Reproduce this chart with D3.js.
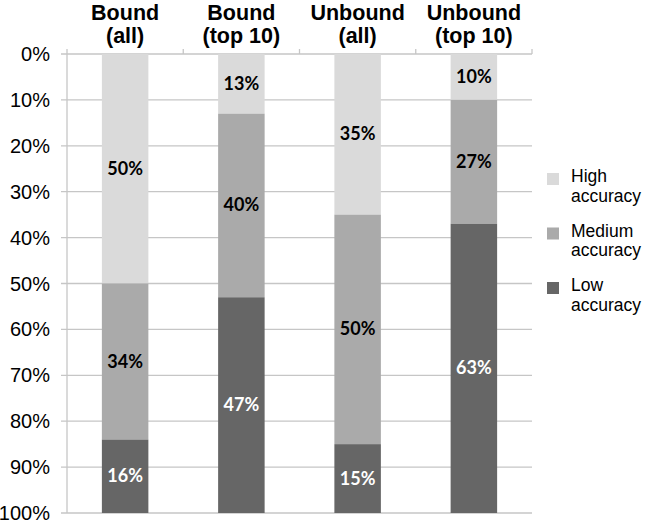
<!DOCTYPE html>
<html><head><meta charset="utf-8">
<script src="https://cdn.jsdelivr.net/npm/d3@7"></script>
<style>body{margin:0;background:#fff}</style>
</head><body>
<svg id="c" width="650" height="524"></svg>
<script>
const categories = [["Bound","(all)"],["Bound","(top 10)"],["Unbound","(all)"],["Unbound","(top 10)"]];
const seriesNames = [["High","accuracy"],["Medium","accuracy"],["Low","accuracy"]];
const high   = [50, 13, 35, 10];
const medium = [34, 40, 50, 27];
const low    = [16, 47, 15, 63];
const yTicks = [0,10,20,30,40,50,60,70,80,90,100];
const colors = ["#dadada","#aaaaaa","#666666"];
const labelColors = ["#000","#000","#fff"];

const svg = d3.select("#c");
const L = 67, R = 532, T = 54, B = 513;
const x = d3.scaleBand().domain(d3.range(categories.length)).range([L, R]).paddingInner(0.6).paddingOuter(0.3);
const xb = d3.scaleBand().domain(d3.range(categories.length)).range([L, R]);
const y = d3.scaleLinear().domain([0, 100]).range([T, B]);

// gridlines
svg.append("g").selectAll("line").data(yTicks).join("line")
  .attr("x1", L - 6).attr("x2", R).attr("y1", d => y(d)).attr("y2", d => y(d))
  .attr("stroke", "#c6c6c6").attr("stroke-width", 1.3);
// left axis line
svg.append("line").attr("x1", L).attr("x2", L).attr("y1", T).attr("y2", B)
  .attr("stroke", "#c6c6c6").attr("stroke-width", 1.3);
// top ticks
svg.append("g").selectAll("line").data(d3.range(categories.length + 1)).join("line")
  .attr("x1", d => L + d * xb.bandwidth()).attr("x2", d => L + d * xb.bandwidth())
  .attr("y1", T - 5).attr("y2", T).attr("stroke", "#c6c6c6").attr("stroke-width", 1.3);

// tick labels
svg.append("g").selectAll("text").data(yTicks).join("text")
  .attr("x", 50).attr("y", d => y(d) + 7).attr("text-anchor", "end")
  .attr("font-family", "Liberation Sans, Arial, sans-serif").attr("font-size", 20)
  .attr("fill", "#000").text(d => d + "%");

// stacked data
const series = [high, medium, low];
const rows = categories.map((c, i) => ({i, h: high[i], m: medium[i], l: low[i]}));
const stack = d3.stack().keys(["h","m","l"])(rows);

stack.forEach((s, si) => {
  const g = svg.append("g");
  g.selectAll("rect").data(s).join("rect")
    .attr("x", d => x(d.data.i)).attr("width", x.bandwidth())
    .attr("y", d => y(d[0])).attr("height", d => y(d[1]) - y(d[0]))
    .attr("fill", colors[si]);
  g.selectAll("text").data(s).join("text")
    .attr("x", d => x(d.data.i) + x.bandwidth() / 2)
    .attr("y", d => (y(d[0]) + y(d[1])) / 2 + 6)
    .attr("text-anchor", "middle")
    .attr("font-family", "Lato, Carlito, Calibri, sans-serif").attr("font-weight", "bold")
    .attr("font-size", 18).attr("fill", labelColors[si])
    .text(d => series[si][d.data.i] + "%");
});

// category titles (two lines each)
svg.append("g").selectAll("g").data(categories).join("g")
  .each(function(d, i) {
    const cx = xb(i) + xb.bandwidth() / 2;
    d3.select(this).selectAll("text").data(d).join("text")
      .attr("x", cx).attr("y", (t, j) => 20 + j * 23)
      .attr("text-anchor", "middle").attr("font-family", "Liberation Sans, Arial, sans-serif")
      .attr("font-weight", "bold").attr("font-size", 21.5).attr("fill", "#000")
      .text(t => t);
  });

// legend
const lg = svg.append("g").selectAll("g").data(seriesNames).join("g")
  .attr("transform", (d, i) => `translate(547, ${173 + i * 54.5})`);
lg.append("rect").attr("width", 12).attr("height", 12).attr("fill", (d, i) => colors[i]);
lg.each(function(d) {
  d3.select(this).selectAll("text").data(d).join("text")
    .attr("font-family", "Liberation Sans, Arial, sans-serif").attr("font-size", 17.5)
    .attr("fill", "#000")
    .attr("x", 24).attr("y", (t, j) => 9 + j * 19.8).text(t => t);
});
</script>
</body></html>
